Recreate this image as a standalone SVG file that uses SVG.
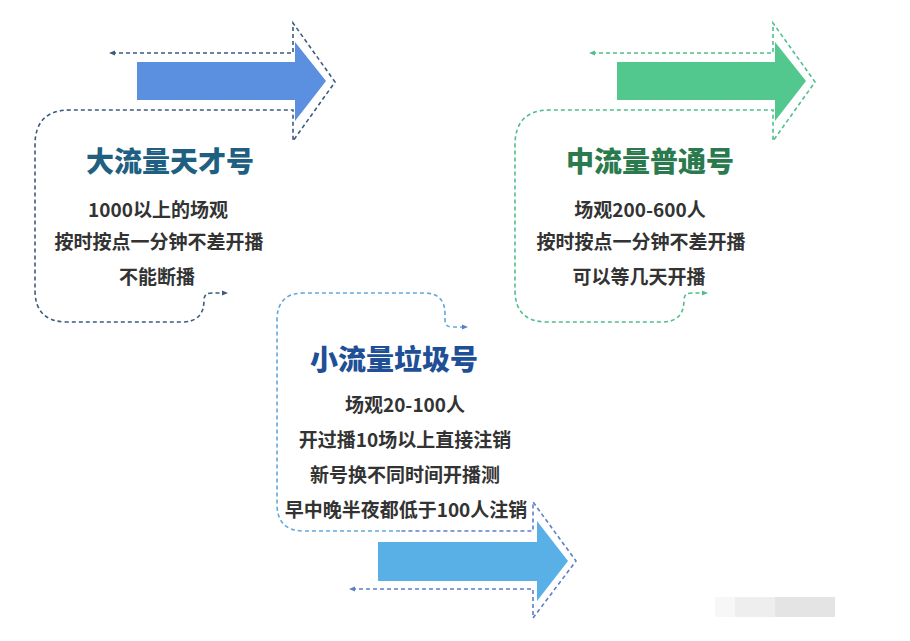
<svg xmlns="http://www.w3.org/2000/svg" width="910" height="641" viewBox="0 0 910 641">
<defs>
<style>
.title{font-family:"Noto Sans CJK SC","Noto Sans",sans-serif;font-weight:900;font-size:28px;text-anchor:middle}
.body{font-family:"Noto Sans CJK SC","Noto Sans",sans-serif;font-weight:700;font-size:19px;fill:#333;text-anchor:middle}
.dash{fill:none;stroke-width:1.6;stroke-dasharray:4 3}
</style>
<marker id="mb" viewBox="0 0 10 10" refX="5" refY="5" markerWidth="6" markerHeight="6" orient="auto-start-reverse" markerUnits="userSpaceOnUse"><path d="M0,1 L10,5 L0,9 z" fill="#3d5a80"/></marker>
<marker id="mg" viewBox="0 0 10 10" refX="5" refY="5" markerWidth="6" markerHeight="6" orient="auto-start-reverse" markerUnits="userSpaceOnUse"><path d="M0,1 L10,5 L0,9 z" fill="#4fbf8a"/></marker>
<marker id="ml" viewBox="0 0 10 10" refX="5" refY="5" markerWidth="6" markerHeight="6" orient="auto-start-reverse" markerUnits="userSpaceOnUse"><path d="M0,1 L10,5 L0,9 z" fill="#5a7fc8"/></marker>
</defs>
<rect width="910" height="641" fill="#ffffff"/>

<g id="connectors">
<path class="dash" stroke="#3d5a80" marker-start="url(#mb)" marker-end="url(#mb)" d="M112 53 L293 53 L293 23 L335 82 L293 141 L293 110 L70 110 Q35 110 35 145 L35 290 Q35 322 67 322 L182 322 Q204 322 204 300 Q204 293 212 293 L225 293"/>
<path class="dash" stroke="#4fbf8a" marker-start="url(#mg)" marker-end="url(#mg)" d="M592 53 L773 53 L773 23 L815 82 L773 141 L773 110 L550 110 Q515 110 515 145 L515 290 Q515 322 547 322 L662 322 Q684 322 684 300 Q684 293 692 293 L705 293"/>
<path class="dash" stroke="#5a7fc8" marker-start="url(#ml)" d="M352 589 L533 589 L533 618 L576 561 L533 502 L533 531 L400 531"/>
<path class="dash" stroke="#62a8dc" marker-end="url(#ml)" d="M400 531 L304 531 Q277 531 277 504 L277 320 Q277 293 304 293 L424 293 Q445 293 445 314 L445 320 Q445 327 452 327 L465 327"/>
</g>

<g id="node-big">
<polygon points="137,62 295,62 295,42 326,81 295,121 295,100 137,100" fill="#5b8fe0"/>
<text class="title" x="170" y="172" fill="#1f5f82">大流量天才号</text>
<text class="body" x="158" y="217">1000以上的场观</text>
<text class="body" x="159" y="249">按时按点一分钟不差开播</text>
<text class="body" x="157" y="284">不能断播</text>
</g>

<g id="node-mid">
<polygon points="617,62 775,62 775,42 806,81 775,121 775,100 617,100" fill="#52c78e"/>
<text class="title" x="650" y="172" fill="#2a7a4e">中流量普通号</text>
<text class="body" x="640" y="217">场观200-600人</text>
<text class="body" x="641" y="249">按时按点一分钟不差开播</text>
<text class="body" x="639" y="284">可以等几天开播</text>
</g>

<g id="node-small">
<polygon points="378,542 537,542 537,521 568,561 537,601 537,581 378,581" fill="#58b0e6"/>
<text class="title" x="394" y="370" fill="#1f4f96">小流量垃圾号</text>
<text class="body" x="405" y="412">场观20-100人</text>
<text class="body" x="405" y="447">开过播10场以上直接注销</text>
<text class="body" x="405" y="482">新号换不同时间开播测</text>
<text class="body" x="406" y="517">早中晚半夜都低于100人注销</text>
</g>

<g id="watermark">
<rect x="715" y="597" width="20" height="20" fill="#f7f7f7"/>
<rect x="735" y="597" width="40" height="20" fill="#eeeeee"/>
<rect x="775" y="597" width="60" height="20" fill="#e4e4e4"/>
</g>
</svg>
